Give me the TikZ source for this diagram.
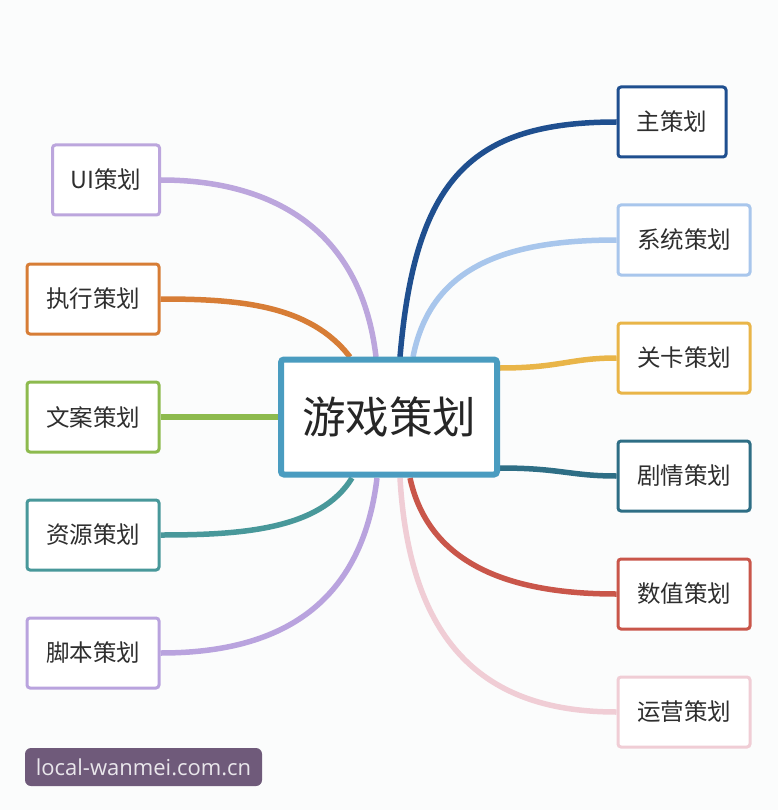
\documentclass[tikz,border=0pt]{standalone}
\usepackage{fontspec}
\newfontfamily\cjk{Noto Sans CJK SC}
\newfontfamily\wmfont{Open Sans}
\usepackage{xcolor}
\usetikzlibrary{calc}
\definecolor{bgc}{HTML}{FBFCFC}
\definecolor{hubc}{HTML}{4A9CC0}
\definecolor{zhuc}{HTML}{1F4F8F}
\definecolor{xitc}{HTML}{A8C6EC}
\definecolor{guanc}{HTML}{E9B548}
\definecolor{juqc}{HTML}{2E6E85}
\definecolor{shuzc}{HTML}{C9564A}
\definecolor{yunyc}{HTML}{F0CDD5}
\definecolor{uic}{HTML}{BCA6DD}
\definecolor{zhixc}{HTML}{D77D36}
\definecolor{wenac}{HTML}{8DBA4E}
\definecolor{ziyc}{HTML}{48989A}
\definecolor{jiaoc}{HTML}{B9A3DE}
\definecolor{wmc}{HTML}{6F5A7A}
\tikzset{
  every node/.append style={font=\cjk},
  rolebox/.style={draw=#1, line width=3pt, rounded corners=3pt, fill=white,
    minimum width=132pt, minimum height=70pt, inner sep=0pt, font=\cjk\fontsize{23.5}{24}\selectfont, text=black!82},
  link/.style={draw=#1, line width=5.5pt}
}
\begin{document}
\begin{tikzpicture}[x=1pt, y=-1pt]
    \fill[bgc] (0,0) rectangle (778,810);
    \useasboundingbox (0,0) rectangle (778,810);
    % right side
    \node[rolebox=zhuc, minimum width=108pt] (zhu) at (672,122) {主策划};
    \node[rolebox=xitc] (xit) at (684,240) {系统策划};
    \node[rolebox=guanc] (guan) at (684,358) {关卡策划};
    \node[rolebox=juqc] (juq) at (684,476) {剧情策划};
    \node[rolebox=shuzc] (shuz) at (684,594) {数值策划};
    \node[rolebox=yunyc] (yuny) at (684,712) {运营策划};
    % left side
    \node[rolebox=uic, minimum width=107pt] (ui) at (106,180) {UI策划};
    \node[rolebox=zhixc] (zhix) at (93,299) {执行策划};
    \node[rolebox=wenac] (wena) at (93,417) {文案策划};
    \node[rolebox=ziyc] (ziy) at (93,535) {资源策划};
    \node[rolebox=jiaoc] (jiao) at (93,653) {脚本策划};
    % connectors
    \coordinate (h1) at (400,357);
    \coordinate (h2) at (413,357);
    \coordinate (h3) at (500,368);
    \coordinate (h4) at (500,468);
    \coordinate (h5) at (410,478);
    \coordinate (h6) at (400,478);
    \coordinate (h7) at (376,357);
    \coordinate (h8) at (350,357);
    \coordinate (h9) at (278,417);
    \coordinate (h10) at (352,478);
    \coordinate (h11) at (377,478);
    \draw[link=zhuc] (h1) .. controls (415,180) and (470,122) .. (zhu.west);
    \draw[link=xitc] (h2) .. controls (430,270) and (500,240) .. (xit.west);
    \draw[link=guanc] (h3) .. controls (560,368) and (570,358) .. (guan.west);
    \draw[link=juqc] (h4) .. controls (560,468) and (570,476) .. (juq.west);
    \draw[link=shuzc] (h5) .. controls (430,570) and (520,594) .. (shuz.west);
    \draw[link=yunyc] (h6) .. controls (410,650) and (490,712) .. (yuny.west);
    \draw[link=uic] (h7) .. controls (360,220) and (260,180) .. (ui.east);
    \draw[link=zhixc] (h8) .. controls (310,305) and (240,299) .. (zhix.east);
    \draw[link=wenac] (h9) -- (wena.east);
    \draw[link=ziyc] (h10) .. controls (320,530) and (240,535) .. (ziy.east);
    \draw[link=jiaoc] (h11) .. controls (360,620) and (260,653) .. (jiao.east);
    % hub
    \node[draw=hubc, line width=6pt, rounded corners=3pt, fill=white, minimum width=216pt,
      minimum height=115pt, font=\cjk\fontsize{43.5}{44}\selectfont, text=black!85] (hub) at (389,417) {游戏策划};
    % watermark
    \node[fill=wmc, rounded corners=6pt, minimum width=237pt, minimum height=38pt, inner sep=0pt,
      text=white!85!wmc, font=\wmfont\fontsize{22}{22}\selectfont] (wm) at (143.5,767) {local-wanmei.com.cn};
\end{tikzpicture}
\end{document}
